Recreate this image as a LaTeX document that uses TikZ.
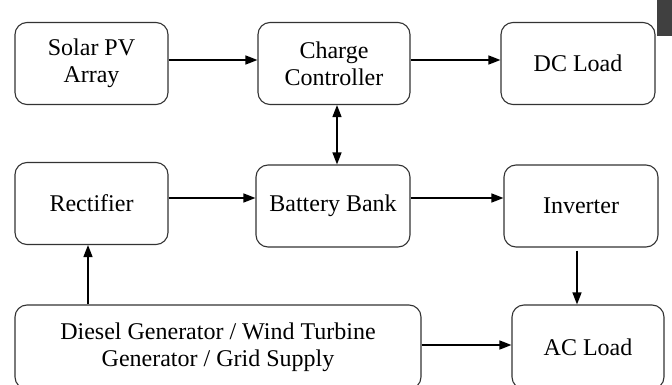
\documentclass[tikz,border=0pt]{standalone}
\usepackage{fontspec}
\setmainfont{Liberation Serif}
\usetikzlibrary{arrows.meta}
\begin{document}
\begin{tikzpicture}[x=1pt,y=-1pt,
  blk/.style={draw=black!80,line width=1.1pt,rounded corners=12pt,align=center,
    font=\fontsize{24}{27}\selectfont,inner sep=0pt},
  conn/.style={line width=1.4pt,-{Triangle[length=12pt,width=9pt]}},
  bconn/.style={line width=1.4pt,{Triangle[length=12pt,width=9pt]}-{Triangle[length=12pt,width=9pt]}}]
\useasboundingbox (0,0) rectangle (672,385);
\fill[white] (0,0) rectangle (672,385);
\fill[black!75] (657,0) rectangle (672,36);
\node[blk,minimum width=153pt,minimum height=82pt] (pv) at (91.5,63.5) {Solar PV\\Array};
\node[blk,minimum width=152pt,minimum height=82pt] (cc) at (334,63.5) {Charge\\Controller};
\node[blk,minimum width=154pt,minimum height=82pt] (dc) at (578,63.5) {DC Load};
\node[blk,minimum width=153pt,minimum height=82pt] (rec) at (91.5,203.5) {Rectifier};
\node[blk,minimum width=154pt,minimum height=82pt] (bat) at (333,206) {Battery Bank};
\node[blk,minimum width=154pt,minimum height=82pt] (inv) at (581,206) {Inverter};
\node[blk,minimum width=406pt,minimum height=84pt] (gen) at (218,347) {Diesel Generator / Wind Turbine\\Generator / Grid Supply};
\node[blk,minimum width=152pt,minimum height=84pt] (ac) at (588,347) {AC Load};
\draw[conn] (pv.east |- 0,60) -- (cc.west |- 0,60);
\draw[conn] (cc.east |- 0,60) -- (dc.west |- 0,60);
\draw[conn] (rec.east |- 0,198) -- (bat.west |- 0,198);
\draw[conn] (bat.east |- 0,198) -- (inv.west |- 0,198);
\draw[bconn] (337,0 |- cc.south) -- (337,0 |- bat.north);
\draw[conn] (gen.north -| 88,0) -- (rec.south -| 88,0);
\draw[conn] (inv.south -| 577,0) ++(0,3) -- (ac.north -| 577,0);
\draw[conn] (gen.east |- 0,345) -- (ac.west |- 0,345);
\end{tikzpicture}
\end{document}
